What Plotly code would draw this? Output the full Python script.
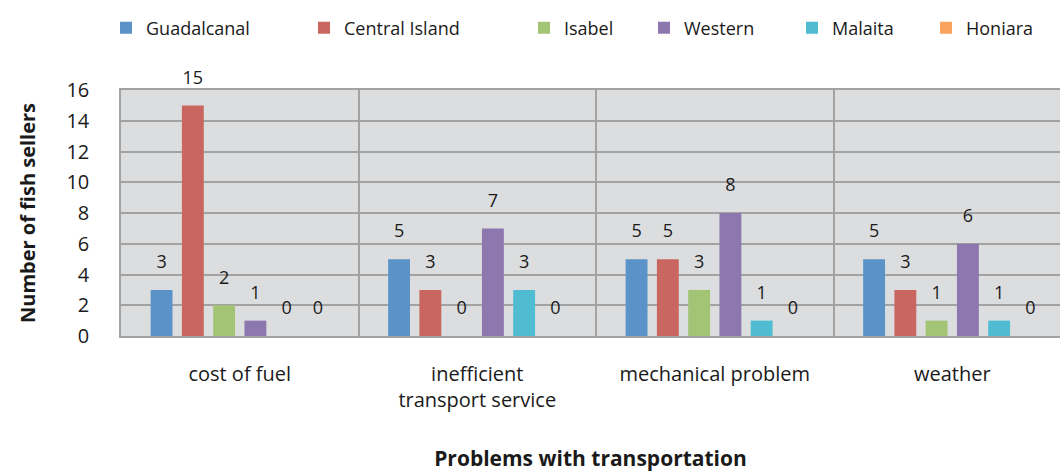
import plotly.graph_objects as go

# Transport problems reported by fish sellers, by province
categories = ["cost of fuel", "inefficient<br>transport service", "mechanical problem", "weather"]
series_names = ["Guadalcanal", "Central Island", "Isabel", "Western", "Malaita", "Honiara"]
guadalcanal = [3, 5, 5, 5]
central_island = [15, 3, 5, 3]
isabel = [2, 0, 3, 1]
western = [1, 7, 8, 6]
malaita = [0, 3, 1, 1]
honiara = [0, 0, 0, 0]
series_values = [guadalcanal, central_island, isabel, western, malaita, honiara]
colors = ["#5B93C9", "#C9665F", "#A3C475", "#8C78AF", "#50BCD1", "#F9A35E"]
y_ticks = [0, 2, 4, 6, 8, 10, 12, 14, 16]

# left edge (px) of each legend entry along the top row
legend_left_px = [106, 304, 524, 644, 792, 926]

FONT = "Open Sans"
TEXT = "#1a1a1a"
GRID = "#A2A2A2"
BARGAP = 0.21
W, H = 1060, 472

fig = go.Figure()
for i, (name, vals, col) in enumerate(zip(series_names, series_values, colors)):
    fig.add_trace(go.Bar(
        name=name,
        x=categories,
        y=vals,
        marker=dict(color=col, line=dict(width=0)),
        legend="legend" if i == 0 else f"legend{i + 1}",
    ))

# value labels: grouped text points sitting above each bar
for name, vals in zip(series_names, series_values):
    fig.add_trace(go.Scatter(
        x=categories,
        y=vals,
        mode="markers+text",
        marker=dict(size=26, opacity=0),
        text=[str(v) for v in vals],
        textposition="top center",
        textfont=dict(family=FONT, size=18, color=TEXT),
        showlegend=False,
        hoverinfo="skip",
        cliponaxis=False,
    ))

legends = {}
for i, left in enumerate(legend_left_px):
    key = "legend" if i == 0 else f"legend{i + 1}"
    legends[key] = dict(
        orientation="h",
        x=left / W, xanchor="left", xref="container",
        y=1 - 28 / H, yanchor="middle", yref="container",
        font=dict(family=FONT, size=18, color=TEXT),
        itemwidth=30,
        bgcolor="rgba(0,0,0,0)",
    )

fig.update_layout(
    width=W,
    height=H,
    margin=dict(l=121, r=0, t=90, b=134),
    barmode="group",
    bargap=BARGAP,
    bargroupgap=0.3,
    scattermode="group",
    scattergap=BARGAP,
    paper_bgcolor="white",
    plot_bgcolor="#DCDDDF",
    font=dict(family=FONT, size=18, color=TEXT),
    **legends,
    xaxis=dict(
        type="category",
        range=[-0.5, 3.5 - 11 / 237.5],
        tickson="boundaries",
        showgrid=True,
        gridcolor=GRID,
        gridwidth=1.5,
        showline=True,
        linecolor=GRID,
        linewidth=1.5,
        mirror=True,
        ticks="",
        ticklabelstandoff=19,
        tickfont=dict(family=FONT, size=20, color=TEXT),
        title=dict(text="<b>Problems with transportation</b>",
                   font=dict(family=FONT, size=21, color=TEXT), standoff=45),
    ),
    yaxis=dict(
        range=[0, 16],
        tickvals=y_ticks,
        showgrid=True,
        gridcolor=GRID,
        gridwidth=1.5,
        zeroline=False,
        showline=True,
        linecolor=GRID,
        linewidth=1.5,
        ticks="",
        ticklabelstandoff=26,
        tickfont=dict(family=FONT, size=20, color=TEXT),
        title=dict(text="<b>Number of fish sellers</b>",
                   font=dict(family=FONT, size=20, color=TEXT), standoff=25),
    ),
)

fig.write_html("out.html")
